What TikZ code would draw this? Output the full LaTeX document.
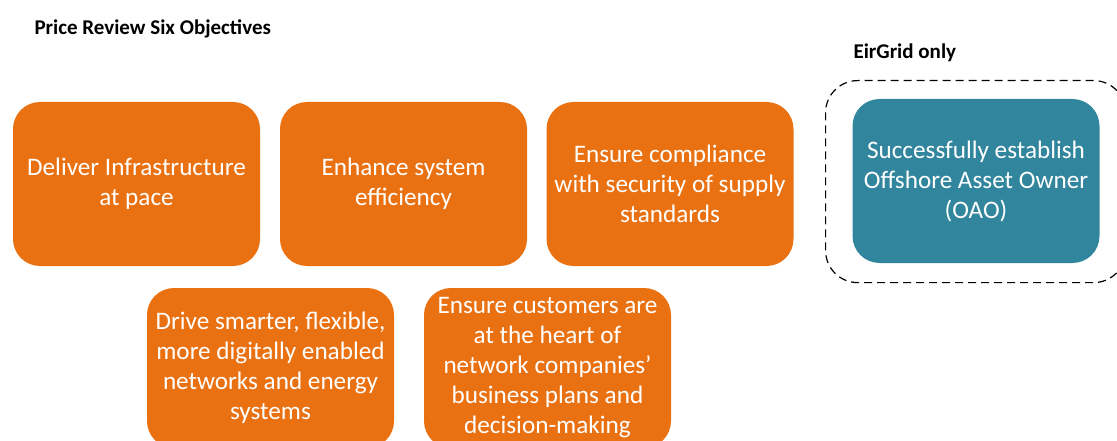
\documentclass[tikz,border=0pt]{standalone}
\usepackage{fontspec}
\setmainfont{Carlito}
\definecolor{objorange}{HTML}{E97111}
\definecolor{oaoteal}{HTML}{31859C}
\begin{document}
\begin{tikzpicture}[x=1pt,y=-1pt,
  objbox/.style={rectangle, rounded corners=27pt, fill=objorange, text=white,
    minimum width=247pt, minimum height=164pt, align=center, inner sep=0pt,
    font=\fontsize{25.2}{30}\selectfont},
  oaobox/.style={objbox, fill=oaoteal},
  heading/.style={anchor=base west, font=\bfseries\fontsize{21}{24}\selectfont},
  groupbox/.style={draw=black, line width=1.2pt, dash pattern=on 8pt off 5pt,
    rounded corners=32pt}]
\useasboundingbox (0,0) rectangle (1117,441);

% headings
\node[heading] (title) at (31,35) {Price Review Six Objectives};
\node[heading] (eir) at (850,59) {EirGrid only};

% EirGrid-only group frame
\node[groupbox, minimum width=300pt, minimum height=202pt, anchor=north west] (grp) at (825,80) {};

% first row of objectives
\node[objbox] (infra) at (136.5,184) {Deliver Infrastructure\\at pace};
\node[objbox] (eff) at (403.5,184) {Enhance system\\efficiency};
\node[objbox] (sec) at (670,184) {Ensure compliance\\with security of supply\\standards};

% EirGrid-only objective
\node[oaobox] (oao) at (976,181) {Successfully establish\\Offshore Asset Owner\\(OAO)};

% second row of objectives
\node[objbox, minimum height=160pt] (digital) at (270.5,368) {Drive smarter, flexible,\\more digitally enabled\\networks and energy\\systems};
\node[objbox, minimum height=160pt] (cust) at (547.5,368) {Ensure customers are\\at the heart of\\network companies’\\business plans and\\decision-making};
\end{tikzpicture}
\end{document}
